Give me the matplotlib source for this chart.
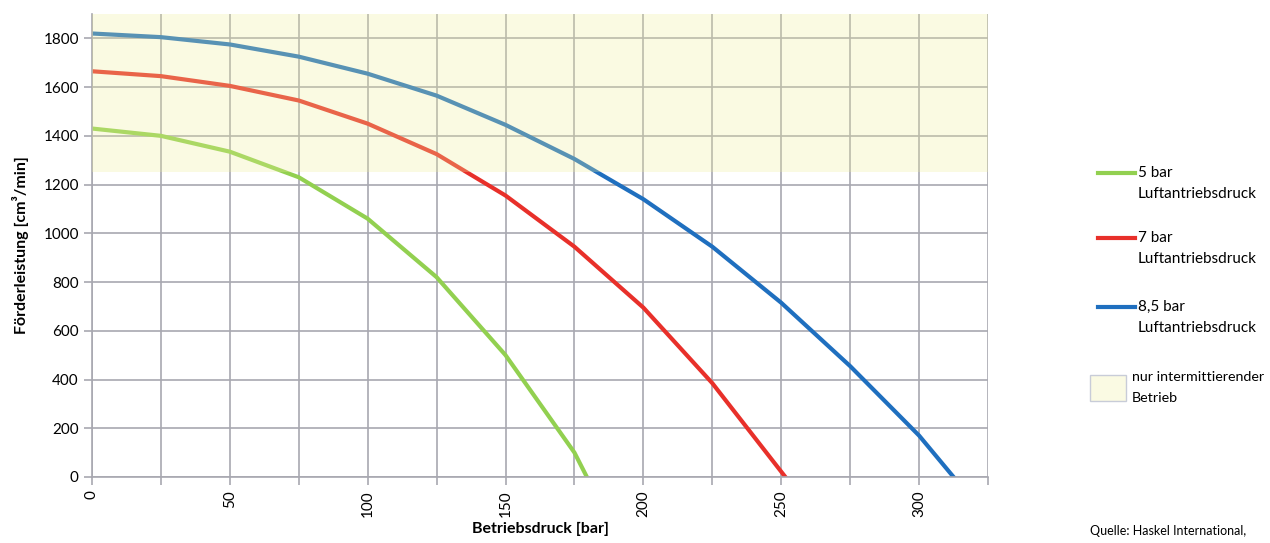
import matplotlib.pyplot as plt
from matplotlib.lines import Line2D
from matplotlib.patches import Rectangle
import numpy as np

plt.rcParams['font.family'] = ['Lato', 'DejaVu Sans']

# Betriebsdruck [bar] / Förderleistung [cm³/min]
p_5 = [0, 25, 50, 75, 100, 125, 150, 175, 179.5]
q_5 = [1430, 1400, 1335, 1230, 1060, 820, 500, 100, 0]

p_7 = [0, 25, 50, 75, 100, 125, 150, 175, 200, 225, 251.5]
q_7 = [1665, 1645, 1605, 1545, 1450, 1325, 1155, 945, 695, 385, 0]

p_85 = [0, 25, 50, 75, 100, 125, 150, 175, 200, 225, 250, 275, 300, 312.5]
q_85 = [1820, 1805, 1775, 1725, 1655, 1565, 1445, 1305, 1140, 945, 715, 455, 170, 0]

labels = [('5 bar', 'Luftantriebsdruck'), ('7 bar', 'Luftantriebsdruck'),
          ('8,5 bar', 'Luftantriebsdruck'), ('nur intermittierender', 'Betrieb')]
colors = ['#92D050', '#E8302A', '#1F6FBF']

# Bereich nur intermittierender Betrieb
band_lo, band_hi = 1250, 1900

W, H = 1270, 543
fig = plt.figure(figsize=(W/100, H/100), dpi=100)
ax = fig.add_axes([92/W, 1 - 477/H, (988-92)/W, (477-14)/H])

ax.plot(p_5, q_5, color=colors[0], lw=3, zorder=2)
ax.plot(p_7, q_7, color=colors[1], lw=3, zorder=2)
ax.plot(p_85, q_85, color=colors[2], lw=3, zorder=2)

# halbtransparent über den Linien, wie im Original
ax.axhspan(band_lo, band_hi, color='#EEEE9A', alpha=0.28, lw=0, zorder=3)

ax.set_xlim(0, 325)
ax.set_ylim(0, 1900)
ax.set_xticks(np.arange(0, 326, 25))
ax.set_xticklabels([str(v) if v % 50 == 0 else '' for v in np.arange(0, 326, 25)],
                   rotation=90)
ax.set_yticks(np.arange(0, 1801, 200))
ax.grid(True, color='#A8A8B0', lw=1.2, zorder=1)
ax.set_axisbelow(True)
for s in ['top', 'right']:
    ax.spines[s].set_visible(False)
for s in ['left', 'bottom']:
    ax.spines[s].set_color('#A8A8B0')
    ax.spines[s].set_linewidth(1.2)
ax.tick_params(axis='both', colors='#A8A8B0', labelcolor='black',
               labelsize=11, length=6, width=1.2)

ax.set_xlabel('Betriebsdruck [bar]', fontsize=11.5, fontweight='bold', labelpad=4)
ax.set_ylabel('Förderleistung [cm³/min]', fontsize=11.5, fontweight='bold', labelpad=10)

# Legende rechts (Linie auf Höhe der ersten Textzeile)
entry_y = [173, 238, 307, 377]
for i, (l1, l2) in enumerate(labels):
    y = entry_y[i]
    fs = 11
    if i < 3:
        fig.add_artist(Line2D([1098/W, 1135/W], [1 - y/H, 1 - y/H],
                              color=colors[i], lw=3, transform=fig.transFigure))
        tx = 1138
    else:
        fig.add_artist(Rectangle((1090/W, 1 - 401/H), 36/W, 26/H,
                                 facecolor='#FAFAE3', edgecolor='#C8CCD8', lw=1,
                                 transform=fig.transFigure))
        tx = 1132
        fs = 10.3
    fig.text(tx/W, 1 - y/H, l1, fontsize=fs, va='center')
    fig.text(tx/W, 1 - (y + 21)/H, l2, fontsize=fs, va='center')

fig.text(1090/W, 1 - 531/H, 'Quelle: Haskel International,', fontsize=9,
         va='center')

fig.savefig('out.png', dpi=100)
